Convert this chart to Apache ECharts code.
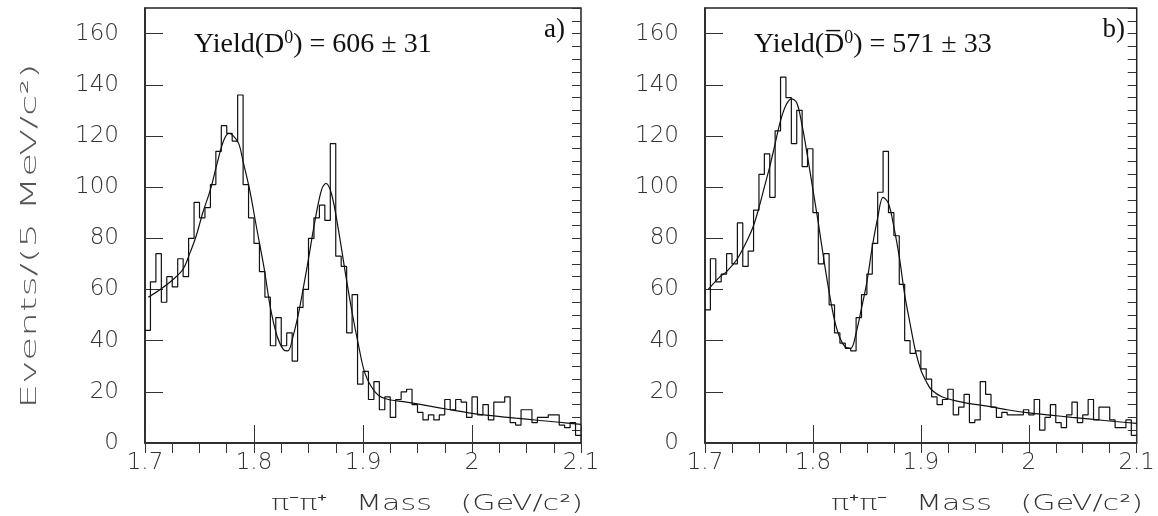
<!DOCTYPE html>
<html><head><meta charset="utf-8">
<script src="https://cdn.jsdelivr.net/npm/echarts@6/dist/echarts.min.js"></script>
<style>html,body{margin:0;padding:0;background:#fff}#c{width:1158px;height:516px}</style>
</head><body><div id="c"></div>
<script>
// Bin definitions (5 MeV bins from 1.7 to 2.1 GeV/c^2)
const massStart = 1.7;
const massEnd = 2.1;
const binWidth = 0.005;
const xTickLabels = ['1.7', '1.8', '1.9', '2', '2.1'];
const yTickLabels = [0, 20, 40, 60, 80, 100, 120, 140, 160];

// Panel a) pi- pi+ counts per bin
const countsA = [44,63,74,55,65,61,72,65,80,94,88,92,101,114,124,121,118,136,101,88,
  78,67,57,38,49,38,43,32,53,60,80,88,93,87,117,73,69,43,58,23,
  28,17,24,13,18,10,17,20,21,15,12,9,11,9,11,17,13,17,16,10,
  18,11,15,9,16,16,18,8,7,13,13,8,10,10,11,11,7,6,8,3];
// Panel b) pi+ pi- counts per bin
const countsB = [52,72,63,66,74,70,86,69,75,91,105,113,96,122,143,135,117,130,108,115,
  90,70,74,54,43,39,37,36,49,58,66,78,98,114,90,81,62,40,35,36,
  29,25,18,15,17,21,11,14,19,8,9,24,19,14,10,12,11,11,11,13,
  11,17,5,10,15,8,6,11,16,8,11,17,9,14,14,9,6,6,9,3];

// Fit curves
const fitMassA = [1.703,1.714,1.726,1.735,1.741,1.747,1.753,1.760,1.766,1.772,1.777,1.781,1.786,1.790,1.796,1.802,1.809,1.815,1.821,1.827,1.831,1.836,1.841,1.845,1.850,1.856,1.862,1.866,1.871,1.877,1.884,1.890,1.896,1.902,1.911,1.920,1.940,1.960,1.980,2.000,2.020,2.040,2.060,2.080,2.100];
const fitA = [57,60,64,68,74,81,90,99,109,118,121,120,117,110,99,85,69,53,42,36.5,36,42,51,60,72,87,99,101.5,97.5,84.5,66,51,38,27,20,17.4,16,14.5,13,11.6,10.6,9.7,8.9,8.1,7.3];
const fitMassB = [1.703,1.714,1.720,1.730,1.740,1.745,1.750,1.755,1.760,1.765,1.770,1.775,1.780,1.785,1.790,1.795,1.800,1.805,1.810,1.815,1.820,1.825,1.830,1.835,1.840,1.845,1.850,1.855,1.860,1.865,1.870,1.875,1.880,1.885,1.890,1.895,1.900,1.905,1.910,1.920,1.940,1.960,1.980,2.000,2.020,2.040,2.060,2.080,2.100];
const fitB = [60,65,67,72,80,85,92,100,108,117,126,132,134.5,133,124,112,99,86,72,59,48,41,37.5,37,43,52.6,63,76.7,88,96,93.6,84.5,72.8,58,46.7,36,28.5,24,20.7,18,15.8,14.5,13,11.8,10.9,10,9.2,8.4,7.7];

const panelTitles = ['Yield(D{sup|0}) = 606 ± 31', 'Yield(D\u0305{sup|0}) = 571 ± 33'];
const panelTags = ['a)', 'b)'];
const xTitles = ['π⁻π⁺   Mass   (GeV/c²)', 'π⁺π⁻   Mass   (GeV/c²)'];
const yTitle = 'Events/(5 MeV/c²)';

function histData(counts) {
  const d = counts.map((c, i) => [massStart + i * binWidth, c]);
  d.push([massEnd, counts[counts.length - 1]]);
  return d;
}
function fitData(m, v) { return m.map((x, i) => [x, v[i]]); }

const W = 1158, H = 516;
const plotTop = 8, plotBottom = 443;
const panelLeft = [145, 705], panelRight = [581, 1141];

const labelFont = { fontFamily: 'DejaVu Sans', fontWeight: 200, fontSize: 23, color: '#333' };
const grids = [0, 1].map(g => ({ left: panelLeft[g], right: W - panelRight[g], top: plotTop, bottom: H - plotBottom,
  show: true, borderColor: '#222', borderWidth: 1.5, backgroundColor: 'transparent' }));
const xAxes = [], yAxes = [];
[0, 1].forEach(g => {
  xAxes.push({
    type: 'value', gridIndex: g, min: massStart, max: massEnd, interval: 0.1,
    axisLine: { show: true, lineStyle: { color: '#222', width: 1.5 } },
    axisTick: { show: true, inside: true, length: 18, lineStyle: { color: '#333', width: 1 } },
    axisLabel: Object.assign({ margin: 9, formatter: v => { const k = Math.round((v - massStart) / 0.1); return xTickLabels[k] !== undefined ? xTickLabels[k] : ''; } }, labelFont),
    splitLine: { show: false }
  });
  xAxes.push({
    type: 'value', gridIndex: g, min: massStart, max: massEnd, interval: 0.025,
    axisLine: { show: false }, axisLabel: { show: false }, splitLine: { show: false },
    axisTick: { show: true, inside: true, length: 10, lineStyle: { color: '#333', width: 1 } }
  });
  yAxes.push({
    type: 'value', gridIndex: g, min: 0, max: 170, interval: 20,
    axisLine: { show: true, lineStyle: { color: '#222', width: 1.5 } },
    axisTick: { show: true, inside: true, length: 18, lineStyle: { color: '#333', width: 1 } },
    axisLabel: Object.assign({ margin: 26, showMaxLabel: false, formatter: v => (yTickLabels.indexOf(v) >= 0 ? String(v) : '') }, labelFont),
    splitLine: { show: false }
  });
  yAxes.push({
    type: 'value', gridIndex: g, min: 0, max: 170, interval: 5,
    axisLine: { show: false }, axisLabel: { show: false }, splitLine: { show: false },
    axisTick: { show: true, inside: true, length: 9, lineStyle: { color: '#333', width: 1 } }
  });
});

const series = [];
[[countsA, fitMassA, fitA], [countsB, fitMassB, fitB]].forEach((p, g) => {
  series.push({ type: 'line', xAxisIndex: 2 * g, yAxisIndex: 2 * g, step: 'end', data: histData(p[0]),
    symbol: 'none', lineStyle: { color: '#111', width: 1.2 }, silent: true, animation: false });
  series.push({ type: 'line', xAxisIndex: 2 * g, yAxisIndex: 2 * g, smooth: 0.35, data: fitData(p[1], p[2]),
    symbol: 'none', lineStyle: { color: '#111', width: 1.2 }, silent: true, animation: false });
});

const titles = [];
[0, 1].forEach(g => {
  titles.push({ text: panelTitles[g], left: panelLeft[g] + 44, top: 24,
    textStyle: { fontFamily: 'Liberation Serif', fontSize: 28, fontWeight: 'normal', color: '#111',
      rich: { sup: { fontFamily: 'Liberation Serif', fontSize: 18, color: '#111', padding: [0, 0, 14, 0] } } } });
  titles.push({ text: panelTags[g], right: W - panelRight[g] + 11, top: 11,
    textStyle: { fontFamily: 'Liberation Serif', fontSize: 27, fontWeight: 'normal', color: '#111' } });
});

// stretched titles to mimic the wide plotter font
const meas = document.createElement('canvas').getContext('2d');
function textWidth(t, font) { meas.font = font; return meas.measureText(t).width; }
const titleFont = '200 21px "DejaVu Sans"';
const graphics = [];
[0, 1].forEach(g => {
  const w = textWidth(xTitles[g], titleFont);
  graphics.push({ type: 'text', x: panelRight[g] + 2, y: 505, scaleX: 312 / w, scaleY: 1,
    style: { text: xTitles[g], font: titleFont, fill: '#333', align: 'right', verticalAlign: 'middle' } });
});
const yw = textWidth(yTitle, titleFont);
graphics.push({ type: 'text', x: 31, y: 236, rotation: Math.PI / 2, scaleX: 345 / yw, scaleY: 1,
  style: { text: yTitle, font: titleFont, fill: '#555', align: 'center', verticalAlign: 'middle' } });

const chart = echarts.init(document.getElementById('c'), null, { renderer: 'canvas' });
chart.setOption({ animation: false, backgroundColor: '#fff', title: titles, grid: grids, xAxis: xAxes, yAxis: yAxes, series: series, graphic: graphics });
</script></body></html>
